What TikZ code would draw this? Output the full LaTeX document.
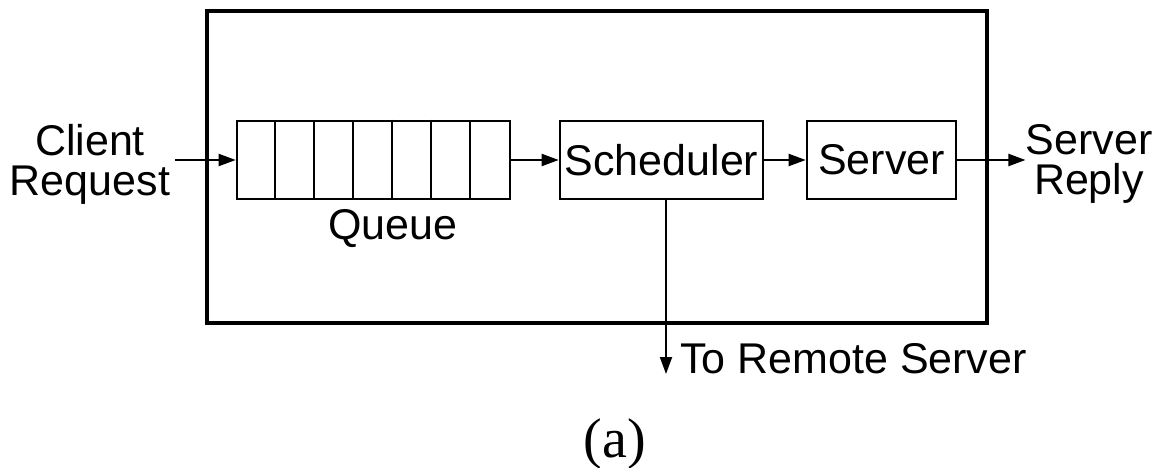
\documentclass[tikz,border=0pt]{standalone}
\usepackage{fontspec}
\setmainfont{Liberation Sans}
\newfontfamily\capserif{Liberation Serif}
\usetikzlibrary{arrows.meta}
\begin{document}
\begin{tikzpicture}[x=1pt,y=-1pt,
  lbl/.style={font=\fontsize{43}{40}\selectfont, inner sep=0pt, align=center},
  boxnode/.style={draw, line width=2.6pt, minimum height=78pt, inner sep=0pt,
                  font=\fontsize{43}{40}\selectfont},
  conn/.style={line width=2pt, -{Triangle[length=17pt,width=12pt]}},
]
\useasboundingbox (0,0) rectangle (1163,468);
% outer frame
\node[draw, line width=3.2pt, minimum width=780pt, minimum height=312pt, inner sep=0pt] (frame) at (597,167) {};
% queue
\node[boxnode, minimum width=273pt] (queue) at (373.5,160) {};
\foreach \i in {1,...,6}
  \draw[line width=2.2pt] ([xshift=\i*39pt]queue.north west) -- ([xshift=\i*39pt]queue.south west);
\node[lbl, anchor=base] (qlabel) at (393,240) {Queue};
% scheduler and server
\node[boxnode, minimum width=203pt] (sched) at (661.5,160) {Scheduler};
\node[boxnode, minimum width=149pt] (server) at (881.5,160) {Server};
% outside labels
\node[lbl] (client) at (90,164) {Client\\Request};
\node[lbl] (reply) at (1089,164) {Server\\Reply};
\node[lbl, anchor=base west] (remote) at (680,373) {To Remote Server};
\node[font=\capserif\fontsize{56}{60}\selectfont, inner sep=0pt, anchor=base] (cap) at (615,457) {(a)};
% coordinates for free ends
\coordinate (cin) at (175,160);
\coordinate (down) at (666,374);
% connectors
\draw[conn] (cin) -- (queue.west);
\draw[conn] (queue.east) -- (sched.west);
\draw[conn] (sched.east) -- (server.west);
\draw[conn] (server.east) -- (reply.west |- server.east);
\draw[conn] (sched.south -| down) -- (down);
\end{tikzpicture}
\end{document}
